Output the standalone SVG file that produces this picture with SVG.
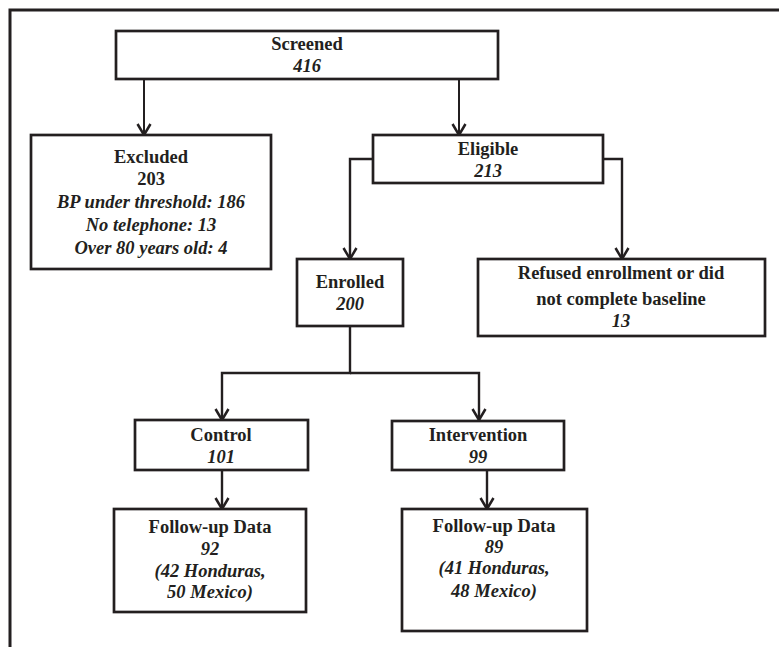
<svg xmlns="http://www.w3.org/2000/svg" width="779" height="647" viewBox="0 0 779 647">
<style>
.box{fill:#fff;stroke:#231f20;stroke-width:2.7}
.con{fill:none;stroke:#231f20;stroke-width:2.4}
.thin{stroke-width:2}
text{font-family:'Liberation Serif',serif;font-size:18.5px;fill:#231f20;text-anchor:middle;font-weight:bold}
.i{font-style:italic}
</style>
<defs>
<marker id="arr" markerUnits="userSpaceOnUse" markerWidth="18" markerHeight="16" viewBox="0 0 18 16" refX="14" refY="8" orient="auto">
<path d="M3,1.5 L14,8 L3,14.5" fill="none" stroke="#231f20" stroke-width="2.5"/>
</marker>
</defs>
<rect x="0" y="0" width="779" height="647" fill="#fff"/>
<path d="M10,647 V10 H779" fill="none" stroke="#231f20" stroke-width="3"/>
<g id="connectors">
<path class="con thin" d="M144,79 V135" marker-end="url(#arr)"/>
<path class="con thin" d="M459,79 V135" marker-end="url(#arr)"/>
<path class="con" d="M373,159 H350 V259" marker-end="url(#arr)"/>
<path class="con" d="M603,159 H622 V259" marker-end="url(#arr)"/>
<path class="con" d="M350,326 V373 H222 V420" marker-end="url(#arr)"/>
<path class="con" d="M350,373 H479 V420" marker-end="url(#arr)"/>
<path class="con" d="M222,470 V509" marker-end="url(#arr)"/>
<path class="con" d="M487,470 V509" marker-end="url(#arr)"/>
</g>
<g id="screened" font-family="Liberation Serif, serif">
<rect class="box" x="116" y="31" width="382" height="48"/>
<text x="307" y="50">Screened</text>
<text class="i" x="307" y="72">416</text>
</g>
<g id="excluded" font-family="Liberation Serif, serif">
<rect class="box" x="31" y="135" width="240" height="134"/>
<text x="151" y="163">Excluded</text>
<text x="151" y="185">203</text>
<text class="i" x="151" y="208">BP under threshold: 186</text>
<text class="i" x="151" y="231">No telephone: 13</text>
<text class="i" x="151" y="254">Over 80 years old: 4</text>
</g>
<g id="eligible">
<rect class="box" x="373" y="135" width="230" height="48"/>
<text x="488" y="155">Eligible</text>
<text class="i" x="488" y="177">213</text>
</g>
<g id="enrolled">
<rect class="box" x="297" y="259" width="106" height="67"/>
<text x="350" y="288">Enrolled</text>
<text class="i" x="350" y="310">200</text>
</g>
<g id="refused">
<rect class="box" x="478" y="259" width="287" height="77"/>
<text x="621" y="279">Refused enrollment or did</text>
<text x="621" y="305">not complete baseline</text>
<text class="i" x="621" y="327">13</text>
</g>
<g id="control">
<rect class="box" x="135" y="420" width="173" height="50"/>
<text x="221" y="441">Control</text>
<text class="i" x="221" y="463">101</text>
</g>
<g id="intervention">
<rect class="box" x="392" y="421" width="172" height="49"/>
<text x="478" y="441">Intervention</text>
<text class="i" x="478" y="463">99</text>
</g>
<g id="followup-control">
<rect class="box" x="114" y="509" width="192" height="103"/>
<text x="210" y="533">Follow-up Data</text>
<text class="i" x="210" y="555">92</text>
<text class="i" x="210" y="577">(42 Honduras,</text>
<text class="i" x="210" y="598">50 Mexico)</text>
</g>
<g id="followup-intervention">
<rect class="box" x="402" y="509" width="185" height="122"/>
<text x="494" y="532">Follow-up Data</text>
<text class="i" x="494" y="553">89</text>
<text class="i" x="494" y="574">(41 Honduras,</text>
<text class="i" x="494" y="597">48 Mexico)</text>
</g>
</svg>
